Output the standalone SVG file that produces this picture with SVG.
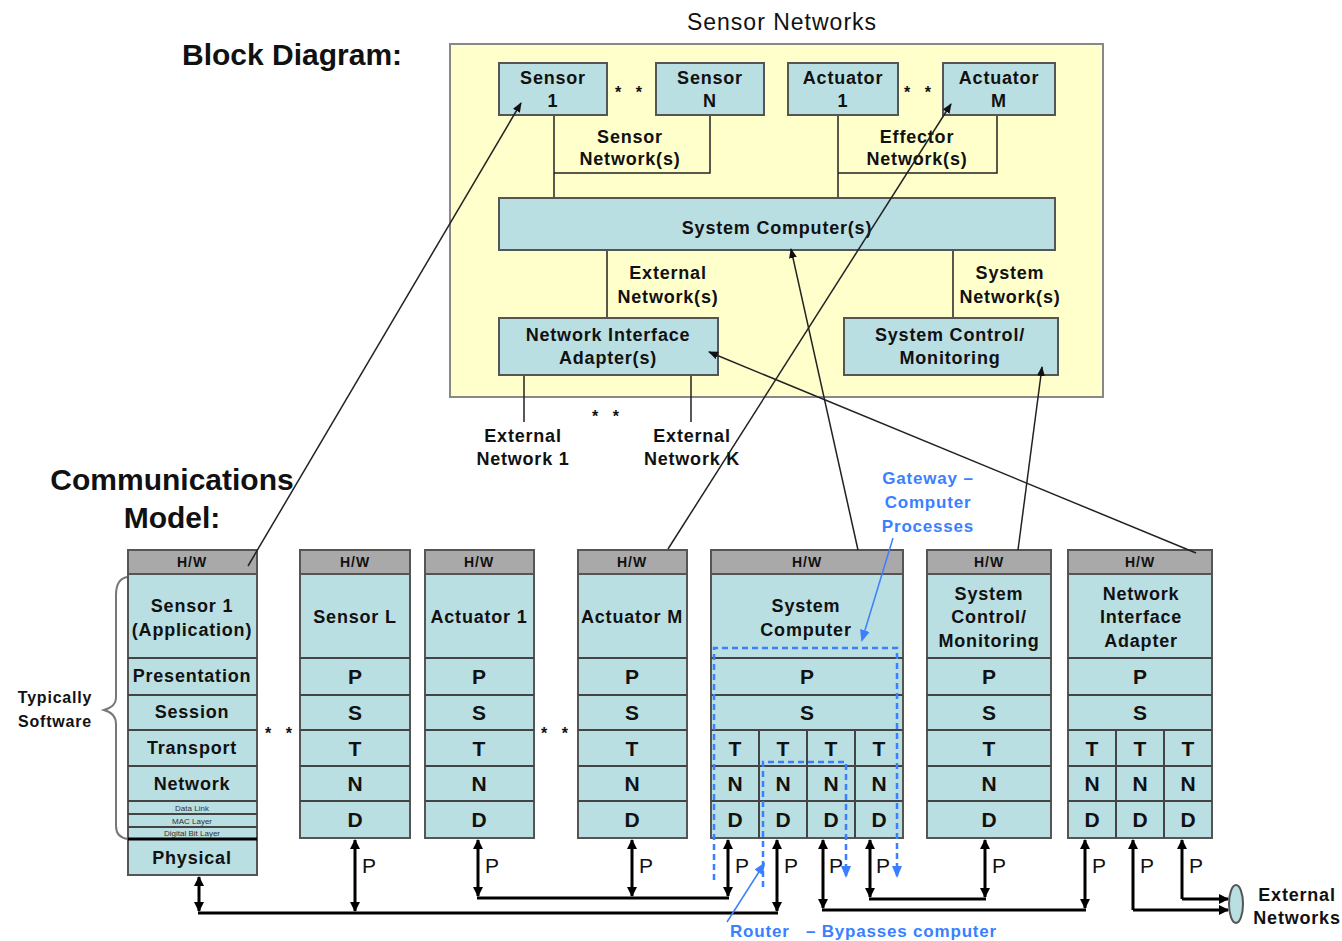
<svg xmlns="http://www.w3.org/2000/svg" width="1342" height="941" viewBox="0 0 1342 941">
<style>
text{font-family:"Liberation Sans",Arial,sans-serif;fill:#111}
.lb{font-weight:bold;font-size:18px;letter-spacing:0.8px;text-anchor:middle}
.big{font-weight:bold;font-size:30px}
.hw{font-weight:bold;font-size:14px;letter-spacing:1px;text-anchor:middle}
.ltr{font-weight:bold;font-size:21px;text-anchor:middle}
.p{font-size:21px}
.tiny{font-size:8px;text-anchor:middle;fill:#333}
.ast{font-weight:bold;font-size:16px;letter-spacing:5px;text-anchor:middle}
.blue{font-weight:bold;font-size:17px;letter-spacing:0.8px;fill:#3a7fff}
.box{fill:#badfe3;stroke:#555;stroke-width:2}
.hwr{fill:#a9a9a9;stroke:#555;stroke-width:2}
.rl{stroke:#444;stroke-width:2}
.thin{stroke:#222;stroke-width:1.5;fill:none}
.bold{stroke:#000;stroke-width:3;fill:none}
.dash{stroke:#3a7fff;stroke-width:2.5;stroke-dasharray:6 4;fill:none}
</style>
<defs>
<marker id="ah" markerWidth="10" markerHeight="8" refX="9" refY="4" orient="auto" markerUnits="userSpaceOnUse"><path d="M0,0 L10,4 L0,8 z" fill="#111"/></marker>
<marker id="bh" markerWidth="10" markerHeight="10" refX="9" refY="5" orient="auto-start-reverse" markerUnits="userSpaceOnUse"><path d="M0,0 L10,5 L0,10 z" fill="#000"/></marker>
<marker id="blh" markerWidth="12" markerHeight="10" refX="10" refY="5" orient="auto" markerUnits="userSpaceOnUse"><path d="M0,0 L12,5 L0,10 z" fill="#3a7fff"/></marker>
</defs>
<rect width="1342" height="941" fill="#fff"/>

<!-- Titles -->
<text x="182" y="65" class="big">Block Diagram:</text>
<text x="172" y="490" class="big" text-anchor="middle">Communications</text>
<text x="172" y="528" class="big" text-anchor="middle">Model:</text>
<text x="782" y="30" font-size="23" letter-spacing="1" text-anchor="middle">Sensor Networks</text>

<!-- Block diagram container -->
<g id="sensor-networks">
<rect x="450" y="44" width="653" height="353" fill="#ffffcc" stroke="#888" stroke-width="2"/>
</g>

<g id="bd-connectors">
<path class="thin" d="M554,115 V198 M710,115 V173 H554 M838,115 V198 M997,115 V173 H838 M607,250 V318 M953,250 V318 M524,375 V422 M691,375 V422"/>
</g>

<g id="bd-sensor1"><rect class="box" x="499" y="63" width="108" height="52"/><text class="lb" x="553" y="84">Sensor</text><text class="lb" x="553" y="107">1</text></g>
<g id="bd-sensorN"><rect class="box" x="656" y="63" width="108" height="52"/><text class="lb" x="710" y="84">Sensor</text><text class="lb" x="710" y="107">N</text></g>
<g id="bd-actuator1"><rect class="box" x="788" y="63" width="110" height="52"/><text class="lb" x="843" y="84">Actuator</text><text class="lb" x="843" y="107">1</text></g>
<g id="bd-actuatorM"><rect class="box" x="943" y="63" width="112" height="52"/><text class="lb" x="999" y="84">Actuator</text><text class="lb" x="999" y="107">M</text></g>
<text class="ast" x="631" y="98">* *</text>
<text class="ast" x="920" y="98">* *</text>
<text class="lb" x="630" y="143">Sensor</text><text class="lb" x="630" y="165">Network(s)</text>
<text class="lb" x="917" y="143">Effector</text><text class="lb" x="917" y="165">Network(s)</text>
<g id="bd-system-computers"><rect class="box" x="499" y="198" width="556" height="52"/><text class="lb" x="777" y="234">System Computer(s)</text></g>
<text class="lb" x="668" y="279">External</text><text class="lb" x="668" y="303">Network(s)</text>
<text class="lb" x="1010" y="279">System</text><text class="lb" x="1010" y="303">Network(s)</text>
<g id="bd-nia"><rect class="box" x="499" y="318" width="219" height="57"/><text class="lb" x="608" y="341">Network Interface</text><text class="lb" x="608" y="364">Adapter(s)</text></g>
<g id="bd-scm"><rect class="box" x="844" y="318" width="214" height="57"/><text class="lb" x="950" y="341">System Control/</text><text class="lb" x="950" y="364">Monitoring</text></g>
<text class="ast" x="608" y="422">* *</text>
<text class="lb" x="523" y="442">External</text><text class="lb" x="523" y="465">Network 1</text>
<text class="lb" x="692" y="442">External</text><text class="lb" x="692" y="465">Network K</text>

<!-- Typically software brace -->
<g id="brace">
<path d="M128,577 C119,578 116,585 116,595 L116,698 C116,705 111,708 104,710 C111,712 116,716 116,724 L116,826 C116,834 120,838 128,839" fill="none" stroke="#777" stroke-width="2"/>
<text x="55" y="703" font-weight="bold" font-size="16" letter-spacing="0.8" text-anchor="middle">Typically</text>
<text x="55" y="727" font-weight="bold" font-size="16" letter-spacing="0.8" text-anchor="middle">Software</text>
</g>

<!-- Stack 1: Sensor 1 -->
<g id="stack-sensor1">
<rect class="box" x="128" y="550" width="129" height="325"/>
<rect class="hwr" x="128" y="550" width="129" height="24"/>
<path class="rl" d="M128,658 H257 M128,695 H257 M128,730 H257 M128,766 H257 M128,801 H257 M128,814 H257 M128,827 H257"/>
<path d="M128,839 H257" stroke="#000" stroke-width="3"/>
<text class="hw" x="192" y="567">H/W</text>
<text class="lb" x="192" y="612">Sensor 1</text>
<text class="lb" x="192" y="636">(Application)</text>
<text class="lb" x="192" y="682">Presentation</text>
<text class="lb" x="192" y="718">Session</text>
<text class="lb" x="192" y="754">Transport</text>
<text class="lb" x="192" y="790">Network</text>
<text class="tiny" x="192" y="811">Data Link</text>
<text class="tiny" x="192" y="824">MAC Layer</text>
<text class="tiny" x="192" y="836">Digital Bit Layer</text>
<text class="lb" x="192" y="864">Physical</text>
</g>

<!-- Generic stacks -->
<g id="stack-sensorL">
<rect class="box" x="300" y="550" width="110" height="288"/>
<rect class="hwr" x="300" y="550" width="110" height="24"/>
<path class="rl" d="M300,658 H410 M300,695 H410 M300,730 H410 M300,766 H410 M300,801 H410"/>
<text class="hw" x="355" y="567">H/W</text>
<text class="lb" x="355" y="623">Sensor L</text>
<text class="ltr" x="355" y="684">P</text><text class="ltr" x="355" y="720">S</text><text class="ltr" x="355" y="756">T</text><text class="ltr" x="355" y="791">N</text><text class="ltr" x="355" y="827">D</text>
</g>

<g id="stack-actuator1">
<rect class="box" x="425" y="550" width="109" height="288"/>
<rect class="hwr" x="425" y="550" width="109" height="24"/>
<path class="rl" d="M425,658 H534 M425,695 H534 M425,730 H534 M425,766 H534 M425,801 H534"/>
<text class="hw" x="479" y="567">H/W</text>
<text class="lb" x="479" y="623">Actuator 1</text>
<text class="ltr" x="479" y="684">P</text><text class="ltr" x="479" y="720">S</text><text class="ltr" x="479" y="756">T</text><text class="ltr" x="479" y="791">N</text><text class="ltr" x="479" y="827">D</text>
</g>

<g id="stack-actuatorM">
<rect class="box" x="578" y="550" width="109" height="288"/>
<rect class="hwr" x="578" y="550" width="109" height="24"/>
<path class="rl" d="M578,658 H687 M578,695 H687 M578,730 H687 M578,766 H687 M578,801 H687"/>
<text class="hw" x="632" y="567">H/W</text>
<text class="lb" x="632" y="623">Actuator M</text>
<text class="ltr" x="632" y="684">P</text><text class="ltr" x="632" y="720">S</text><text class="ltr" x="632" y="756">T</text><text class="ltr" x="632" y="791">N</text><text class="ltr" x="632" y="827">D</text>
</g>

<g id="stack-system-computer">
<rect class="box" x="711" y="550" width="192" height="288"/>
<rect class="hwr" x="711" y="550" width="192" height="24"/>
<path class="rl" d="M711,658 H903 M711,695 H903 M711,730 H903 M711,766 H903 M711,801 H903 M759,730 V838 M807,730 V838 M855,730 V838"/>
<text class="hw" x="807" y="567">H/W</text>
<text class="lb" x="806" y="612">System</text>
<text class="lb" x="806" y="636">Computer</text>
<text class="ltr" x="807" y="684">P</text><text class="ltr" x="807" y="720">S</text>
<text class="ltr" x="735" y="756">T</text><text class="ltr" x="783" y="756">T</text><text class="ltr" x="831" y="756">T</text><text class="ltr" x="879" y="756">T</text>
<text class="ltr" x="735" y="791">N</text><text class="ltr" x="783" y="791">N</text><text class="ltr" x="831" y="791">N</text><text class="ltr" x="879" y="791">N</text>
<text class="ltr" x="735" y="827">D</text><text class="ltr" x="783" y="827">D</text><text class="ltr" x="831" y="827">D</text><text class="ltr" x="879" y="827">D</text>
</g>

<g id="stack-scm">
<rect class="box" x="927" y="550" width="124" height="288"/>
<rect class="hwr" x="927" y="550" width="124" height="24"/>
<path class="rl" d="M927,658 H1051 M927,695 H1051 M927,730 H1051 M927,766 H1051 M927,801 H1051"/>
<text class="hw" x="989" y="567">H/W</text>
<text class="lb" x="989" y="600">System</text>
<text class="lb" x="989" y="623">Control/</text>
<text class="lb" x="989" y="647">Monitoring</text>
<text class="ltr" x="989" y="684">P</text><text class="ltr" x="989" y="720">S</text><text class="ltr" x="989" y="756">T</text><text class="ltr" x="989" y="791">N</text><text class="ltr" x="989" y="827">D</text>
</g>

<g id="stack-nia">
<rect class="box" x="1068" y="550" width="144" height="288"/>
<rect class="hwr" x="1068" y="550" width="144" height="24"/>
<path class="rl" d="M1068,658 H1212 M1068,695 H1212 M1068,730 H1212 M1068,766 H1212 M1068,801 H1212 M1116,730 V838 M1164,730 V838"/>
<text class="hw" x="1140" y="567">H/W</text>
<text class="lb" x="1141" y="600">Network</text>
<text class="lb" x="1141" y="623">Interface</text>
<text class="lb" x="1141" y="647">Adapter</text>
<text class="ltr" x="1140" y="684">P</text><text class="ltr" x="1140" y="720">S</text>
<text class="ltr" x="1092" y="756">T</text><text class="ltr" x="1140" y="756">T</text><text class="ltr" x="1188" y="756">T</text>
<text class="ltr" x="1092" y="791">N</text><text class="ltr" x="1140" y="791">N</text><text class="ltr" x="1188" y="791">N</text>
<text class="ltr" x="1092" y="827">D</text><text class="ltr" x="1140" y="827">D</text><text class="ltr" x="1188" y="827">D</text>
</g>

<text class="ast" x="281" y="739">* *</text>
<text class="ast" x="557" y="739">* *</text>

<g id="ext-networks">
<ellipse cx="1236" cy="904" rx="7" ry="19" fill="#badfe3" stroke="#555" stroke-width="2"/>
<text class="lb" x="1297" y="901">External</text>
<text class="lb" x="1297" y="924">Networks</text>
</g>

<!-- Connectors -->
<g id="connectors">
<line class="thin" x1="248" y1="566" x2="521" y2="103" marker-end="url(#ah)"/>
<line class="thin" x1="668" y1="549" x2="951" y2="104" marker-end="url(#ah)"/>
<line class="thin" x1="858" y1="550" x2="791" y2="249" marker-end="url(#ah)"/>
<line class="thin" x1="1018" y1="550" x2="1042" y2="367" marker-end="url(#ah)"/>
<line class="thin" x1="1196" y1="553" x2="709" y2="352" marker-end="url(#ah)"/>

<line class="bold" x1="199" y1="877" x2="199" y2="911" marker-start="url(#bh)" marker-end="url(#bh)"/>
<line class="bold" x1="355" y1="840" x2="355" y2="911" marker-start="url(#bh)" marker-end="url(#bh)"/>
<line class="bold" x1="777" y1="840" x2="777" y2="911" marker-start="url(#bh)" marker-end="url(#bh)"/>
<path class="bold" d="M198,913 H778"/>

<line class="bold" x1="478" y1="840" x2="478" y2="896" marker-start="url(#bh)" marker-end="url(#bh)"/>
<line class="bold" x1="632" y1="840" x2="632" y2="896" marker-start="url(#bh)" marker-end="url(#bh)"/>
<line class="bold" x1="728" y1="840" x2="728" y2="896" marker-start="url(#bh)" marker-end="url(#bh)"/>
<path class="bold" d="M477,898 H729"/>

<line class="bold" x1="870" y1="840" x2="870" y2="897" marker-start="url(#bh)" marker-end="url(#bh)"/>
<line class="bold" x1="985" y1="840" x2="985" y2="897" marker-start="url(#bh)" marker-end="url(#bh)"/>
<path class="bold" d="M869,899 H986"/>

<line class="bold" x1="823" y1="840" x2="823" y2="908" marker-start="url(#bh)" marker-end="url(#bh)"/>
<line class="bold" x1="1085" y1="840" x2="1085" y2="908" marker-start="url(#bh)" marker-end="url(#bh)"/>
<path class="bold" d="M822,910 H1086"/>

<line class="bold" x1="1133" y1="910" x2="1133" y2="840" marker-end="url(#bh)"/>
<path class="bold" d="M1133,910 H1228" marker-end="url(#bh)"/>
<line class="bold" x1="1182" y1="899" x2="1182" y2="840" marker-end="url(#bh)"/>
<path class="bold" d="M1182,899 H1228" marker-end="url(#bh)"/>

<text class="p" x="362" y="873">P</text>
<text class="p" x="485" y="873">P</text>
<text class="p" x="639" y="873">P</text>
<text class="p" x="735" y="873">P</text>
<text class="p" x="784" y="873">P</text>
<text class="p" x="829" y="873">P</text>
<text class="p" x="876" y="873">P</text>
<text class="p" x="992" y="873">P</text>
<text class="p" x="1092" y="873">P</text>
<text class="p" x="1140" y="873">P</text>
<text class="p" x="1189" y="873">P</text>

<path class="dash" d="M714,880 V648 H897 V876" marker-end="url(#blh)"/>
<path class="dash" d="M763,887 V762 H846 V876" marker-end="url(#blh)"/>
<line x1="893" y1="538" x2="862" y2="640" stroke="#3a7fff" stroke-width="1.5" marker-end="url(#blh)"/>
<line x1="727" y1="922" x2="764" y2="864" stroke="#3a7fff" stroke-width="1.5" marker-end="url(#blh)"/>
</g>

<text class="blue" x="928" y="484" text-anchor="middle">Gateway –</text>
<text class="blue" x="928" y="508" text-anchor="middle">Computer</text>
<text class="blue" x="928" y="532" text-anchor="middle">Processes</text>
<text class="blue" x="730" y="937">Router</text>
<text class="blue" x="806" y="937">– Bypasses computer</text>
</svg>
